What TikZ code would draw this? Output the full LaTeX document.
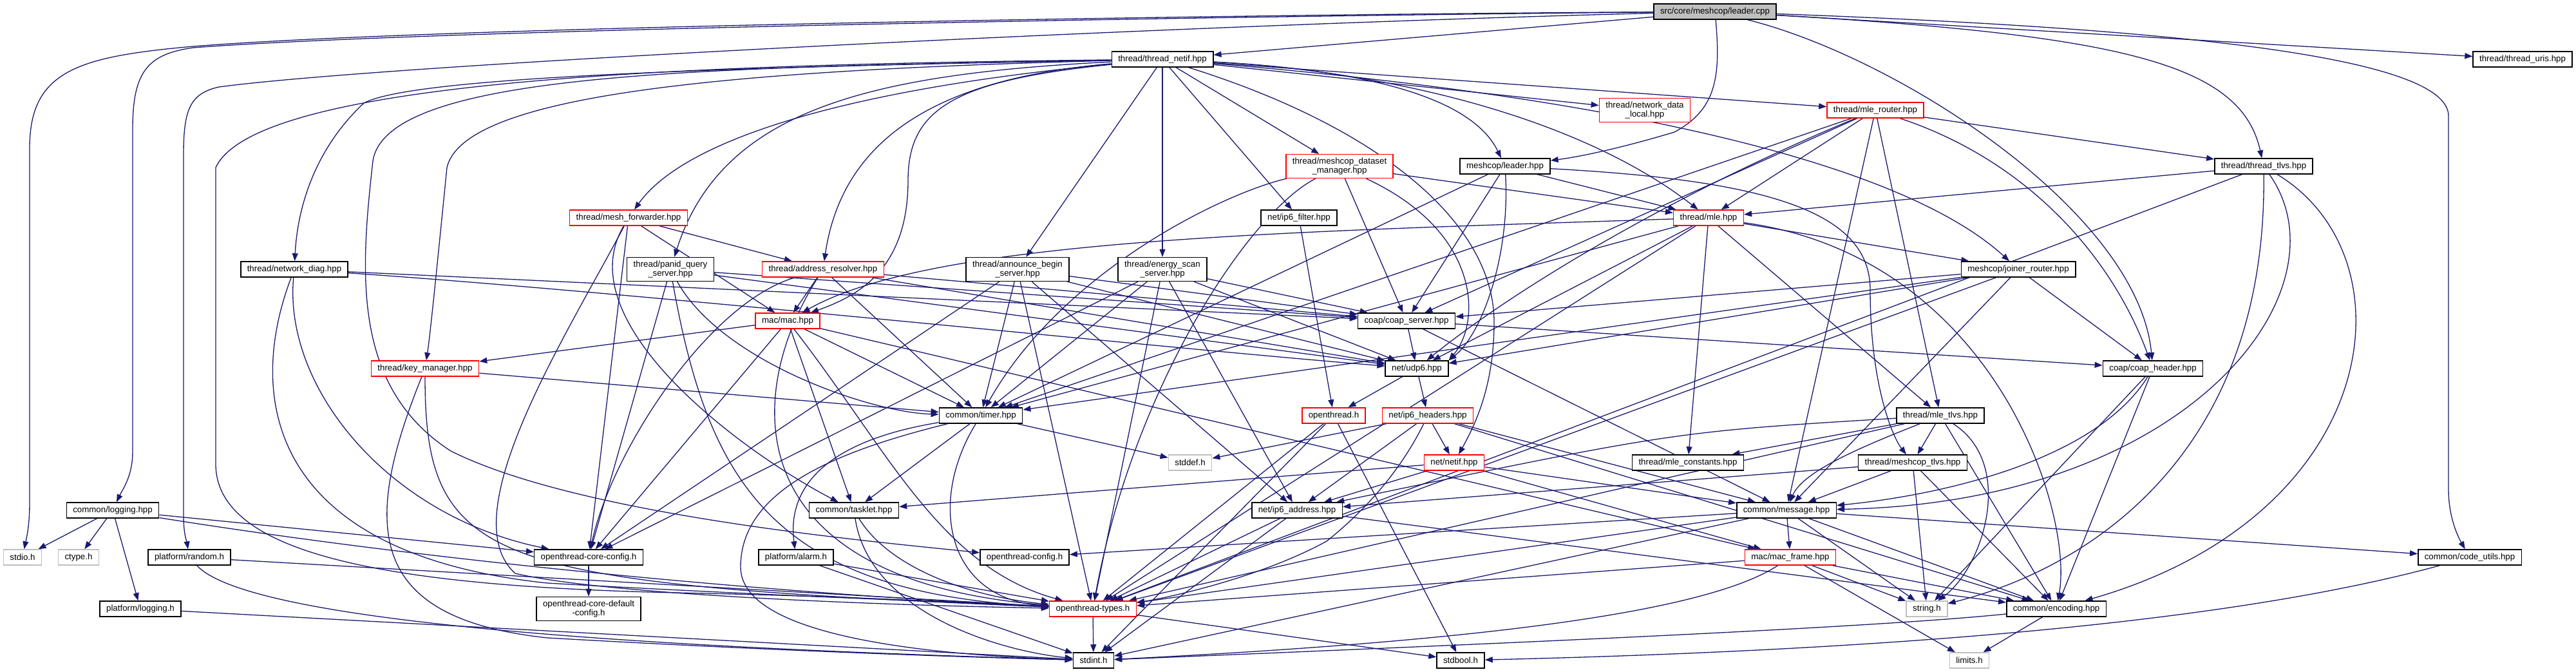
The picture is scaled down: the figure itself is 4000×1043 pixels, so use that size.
\documentclass[tikz,border=0pt]{standalone}
\usepackage{fontspec}
\setmainfont{Liberation Sans}
\usetikzlibrary{arrows.meta}
\pgfdeclarelayer{bg}
\pgfsetlayers{bg,main}
\definecolor{ecol}{HTML}{191970}
\definecolor{grey75}{HTML}{BFBFBF}
\definecolor{nred}{HTML}{FF0000}
\tikzset{
  nb/.style={draw=black, fill=white, line width=1.5pt, inner xsep=10pt, inner ysep=5.5pt,
    minimum height=24pt, align=center, font=\fontsize{13.3}{13.5}\selectfont},
  nr/.style={nb, draw=nred},
  ng/.style={nb, draw=grey75},
  edg/.style={draw=ecol, line width=1.3pt, -{Triangle[length=12pt,width=9pt]}},
}
\begin{document}
\begin{tikzpicture}[x=1pt,y=-1pt]
\useasboundingbox (0,0) rectangle (4000,1043);
% ---- nodes ----
\node[nb, fill=grey75] (root) at (2663,18) {src/core/meshcop/leader.cpp};
\node[nb] (tnetif) at (1805,92) {thread/thread\_netif.hpp};
\node[nb] (uris) at (3917,92) {thread/thread\_uris.hpp};
\node[nr] (ndl) at (2554,171) {thread/network\_data\\\_local.hpp};
\node[nr] (mler) at (2912,171) {thread/mle\_router.hpp};
\node[nr] (dsm) at (2080,258) {thread/meshcop\_dataset\\\_manager.hpp};
\node[nb] (mleader) at (2337,258) {meshcop/leader.hpp};
\node[nb] (ttlvs) at (3515,258) {thread/thread\_tlvs.hpp};
\node[nr] (mle) at (2653,338) {thread/mle.hpp};
\node[nb] (ipf) at (2017,338) {net/ip6\_filter.hpp};
\node[nr] (meshf) at (976,338) {thread/mesh\_forwarder.hpp};
\node[nb] (ndiag) at (457,418) {thread/network\_diag.hpp};
\node[nb] (panid) at (1041,418) {thread/panid\_query\\\_server.hpp};
\node[nr] (addr) at (1278,418) {thread/address\_resolver.hpp};
\node[nb] (ann) at (1580,418) {thread/announce\_begin\\\_server.hpp};
\node[nb] (energy) at (1805,418) {thread/energy\_scan\\\_server.hpp};
\node[nb] (joiner) at (3134,418) {meshcop/joiner\_router.hpp};
\node[nb] (coaps) at (2184,498) {coap/coap\_server.hpp};
\node[nr] (mac) at (1223,498) {mac/mac.hpp};
\node[nr] (keym) at (660,572) {thread/key\_manager.hpp};
\node[nb] (udp) at (2200,572) {net/udp6.hpp};
\node[nb] (coaph) at (3343,572) {coap/coap\_header.hpp};
\node[nb] (timer) at (1523,645) {common/timer.hpp};
\node[nr] (oth) at (2071,645) {openthread.h};
\node[nr] (iph) at (2217,645) {net/ip6\_headers.hpp};
\node[nb] (mletlvs) at (3013,645) {thread/mle\_tlvs.hpp};
\node[ng] (stddef) at (1848,718) {stddef.h};
\node[nr] (netif) at (2258,718) {net/netif.hpp};
\node[nb] (mlec) at (2621,718) {thread/mle\_constants.hpp};
\node[nb] (mctlvs) at (2970,718) {thread/meshcop\_tlvs.hpp};
\node[nb] (logging) at (175,792) {common/logging.hpp};
\node[nb] (tasklet) at (1326,792) {common/tasklet.hpp};
\node[nb] (ipa) at (2014,792) {net/ip6\_address.hpp};
\node[nb] (msg) at (2774,792) {common/message.hpp};
\node[ng] (stdio) at (35,865) {stdio.h};
\node[ng] (ctype) at (122,865) {ctype.h};
\node[nb] (random) at (294,865) {platform/random.h};
\node[nb] (occ) at (914,865) {openthread-core-config.h};
\node[nb] (alarm) at (1236,865) {platform/alarm.h};
\node[nb] (ocfg) at (1591,865) {openthread-config.h};
\node[nr] (macframe) at (2780,865) {mac/mac\_frame.hpp};
\node[nb] (codeu) at (3835,865) {common/code\_utils.hpp};
\node[nb] (plog) at (218,945) {platform/logging.h};
\node[nb] (occd) at (914,945) {openthread-core-default\\-config.h};
\node[nr] (ott) at (1697,945) {openthread-types.h};
\node[ng] (string) at (2992,945) {string.h};
\node[nb] (enc) at (3193,945) {common/encoding.hpp};
\node[nb] (stdint) at (1698,1025) {stdint.h};
\node[nb] (stdbool) at (2268,1025) {stdbool.h};
\node[ng] (limits) at (3058,1025) {limits.h};
% ---- edges ----
\begin{pgfonlayer}{bg}
\foreach \s/\t in {root/tnetif, root/uris,
  tnetif/ann, tnetif/energy, tnetif/ipf, tnetif/dsm, tnetif/ndl, tnetif/mler,
  mler/mle, mler/ttlvs, mler/coaps, mler/timer, mler/mletlvs, mler/msg,
  mle/joiner, mle/timer, mle/udp, mle/mlec, mle/mletlvs, mle/ott,
  dsm/mle, dsm/coaps, mleader/coaps, mleader/mle, mleader/timer,
  ttlvs/mle, ttlvs/ott, ipf/oth,
  meshf/addr, meshf/mac, meshf/occ,
  ndiag/coaps,
  panid/coaps, panid/udp, panid/occ,
  addr/mac, addr/coaps, addr/udp, addr/timer,
  ann/coaps, ann/udp, ann/timer, ann/occ, ann/ott, ann/ipa,
  energy/coaps, energy/udp, energy/timer, energy/occ, energy/ott, energy/ipa,
  joiner/coaps, joiner/udp, joiner/coaph, joiner/timer, joiner/msg, joiner/ott,
  coaps/udp, coaps/msg, coaps/coaph,
  mac/keym, mac/timer, mac/tasklet, mac/occ, mac/macframe,
  keym/timer, udp/oth, udp/iph, coaph/string, coaph/enc,
  timer/stddef, timer/tasklet,
  oth/ott, oth/stdint, oth/stdbool,
  iph/netif, iph/ipa, iph/msg, iph/stddef, iph/enc,
  mletlvs/mlec, mletlvs/mctlvs, mletlvs/enc, mletlvs/ott,
  netif/tasklet, netif/ipa, netif/macframe, netif/msg,
  mctlvs/msg, mctlvs/string, mctlvs/enc, mctlvs/ipa,
  logging/stdio, logging/ctype, logging/plog, logging/occ,
  ipa/ott, ipa/stdint, ipa/enc,
  msg/macframe, msg/string, msg/codeu, msg/ocfg, msg/ott, msg/enc, msg/stdint,
  random/ott, occ/occd, alarm/ott, alarm/stdint,
  macframe/limits, macframe/string, macframe/enc, macframe/ott,
  plog/stdint, ott/stdint, ott/stdbool, enc/limits}
  \draw[edg] (\s) -- (\t);
% root curves
\draw[edg] (root) .. controls (2000,22) and (700,40) .. (300,72) .. controls (120,88) and (46,110) .. (46,230) -- (46,780) .. controls (46,820) and (40,840) .. (stdio);
\draw[edg] (root) .. controls (2000,24) and (700,44) .. (300,74) .. controls (230,84) and (206,110) .. (206,200) -- (206,700) .. controls (206,740) and (190,760) .. (logging);
\draw[edg] (root) .. controls (1800,40) and (600,100) .. (340,135) .. controls (295,145) and (285,170) .. (285,240) -- (285,800) .. controls (285,830) and (290,840) .. (random);
\draw[edg] (root) .. controls (2672,120) and (2665,170) .. (2600,205) .. controls (2500,235) and (2440,245) .. (mleader);
\draw[edg] (root) .. controls (3300,55) and (3480,100) .. (ttlvs);
\draw[edg] (root) .. controls (2950,90) and (3320,330) .. (coaph);
\draw[edg] (root) .. controls (3400,45) and (3802,90) .. (3802,180) -- (3802,760) .. controls (3802,800) and (3815,830) .. (codeu);
% thread_netif curves
\draw[edg] (tnetif) .. controls (1300,140) and (1060,220) .. (meshf);
\draw[edg] (tnetif) .. controls (1100,105) and (640,120) .. (565,160) .. controls (490,230) and (462,320) .. (ndiag);
\draw[edg] (tnetif) .. controls (1350,115) and (1120,170) .. (panid);
\draw[edg] (tnetif) .. controls (1480,120) and (1310,200) .. (addr);
\draw[edg] (tnetif) .. controls (1480,125) and (1410,170) .. (1410,280) .. controls (1410,420) and (1330,460) .. (mac);
\draw[edg] (tnetif) .. controls (1100,110) and (720,150) .. (694,260) .. controls (680,400) and (668,520) .. (keym);
\draw[edg] (tnetif) .. controls (1100,100) and (400,120) .. (335,260) -- (335,720) .. controls (335,860) and (600,910) .. (1050,920) .. controls (1300,925) and (1500,935) .. (ott);
\draw[edg] (tnetif) .. controls (1100,105) and (600,110) .. (579,250) .. controls (560,420) and (545,600) .. (700,700) .. controls (900,800) and (1350,840) .. (ocfg);
\draw[edg] (tnetif) .. controls (2150,110) and (2290,160) .. (mleader);
\draw[edg] (tnetif) .. controls (2150,110) and (2450,180) .. (mle);
\draw[edg] (tnetif) .. controls (2500,150) and (2950,250) .. (joiner);
\draw[edg] (tnetif) .. controls (2150,200) and (2320,350) .. (2320,500) .. controls (2320,600) and (2290,660) .. (netif);
% other curves
\draw[edg] (mler) .. controls (2600,300) and (2350,450) .. (udp);
\draw[edg] (mler) .. controls (3150,250) and (3280,400) .. (coaph);
\draw[edg] (mle) .. controls (2000,360) and (1450,370) .. (mac);
\draw[edg] (mle) .. controls (3100,400) and (3220,800) .. (enc);
\draw[edg] (dsm) .. controls (1900,300) and (1650,420) .. (timer);
\draw[edg] (dsm) .. controls (2300,360) and (2300,500) .. (udp.north east);
\draw[edg] (dsm) .. controls (1940,330) and (1760,600) .. (ott);
\draw[edg] (mleader) .. controls (2750,280) and (2904,330) .. (2904,450) .. controls (2904,600) and (2940,680) .. (mctlvs);
\draw[edg] (mleader) .. controls (2345,400) and (2300,520) .. (udp.north east);
\draw[edg] (ttlvs) .. controls (3650,450) and (3400,780) .. (msg);
\draw[edg] (ttlvs) .. controls (3750,400) and (3700,800) .. (enc);
\draw[edg] (ttlvs) .. controls (3520,700) and (3250,880) .. (string);
\draw[edg] (meshf) .. controls (880,500) and (1150,700) .. (tasklet);
\draw[edg] (meshf) .. controls (880,520) and (700,800) .. (800,890) .. controls (950,925) and (1400,940) .. (ott);
\draw[edg] (ndiag) .. controls (1000,455) and (1800,540) .. (udp);
\draw[edg] (ndiag) .. controls (440,600) and (600,800) .. (occ);
\draw[edg] (ndiag) .. controls (380,620) and (420,860) .. (850,905) .. controls (1200,925) and (1500,935) .. (ott);
\draw[edg] (panid) .. controls (1120,560) and (1350,640) .. (timer);
\draw[edg] (panid) .. controls (1100,750) and (1200,920) .. (ott);
\draw[edg] (addr) .. controls (1100,470) and (950,700) .. (occ);
\draw[edg] (addr) .. controls (1150,620) and (1150,900) .. (ott);
\draw[edg] (mac) .. controls (1380,700) and (1460,880) .. (ott);
\draw[edg] (keym) .. controls (660,880) and (760,905) .. (ott);
\draw[edg] (keym) .. controls (560,820) and (570,960) .. (850,990) .. controls (1200,1010) and (1500,1020) .. (stdint);
\draw[edg] (coaph) .. controls (3250,720) and (3000,770) .. (msg);
\draw[edg] (timer) .. controls (1250,690) and (1225,780) .. (alarm);
\draw[edg] (timer) .. controls (1440,780) and (1470,930) .. (ott);
\draw[edg] (timer) .. controls (1300,700) and (1150,760) .. (1150,880) .. controls (1150,980) and (1400,1015) .. (stdint);
\draw[edg] (iph) .. controls (2170,740) and (2110,800) .. (2060,840) .. controls (1950,900) and (1800,930) .. (ott);
\draw[edg] (mletlvs) .. controls (2600,670) .. (ipa);
\draw[edg] (mletlvs) .. controls (3130,720) and (3080,880) .. (string);
\draw[edg] (mletlvs) .. controls (2900,690) and (2800,730) .. (msg);
\draw[edg] (tasklet) .. controls (1380,880) and (1500,925) .. (ott);
\draw[edg] (tasklet) .. controls (1350,950) and (1550,1010) .. (stdint);
\draw[edg] (random) .. controls (400,980) and (1200,1010) .. (stdint);
\draw[edg] (macframe) .. controls (2650,950) and (2300,995) .. (stdint);
\draw[edg] (codeu) .. controls (3450,970) and (2900,1010) .. (stdbool);
\draw[edg] (enc) .. controls (2900,975) and (2300,1000) .. (stdint);
\draw[edg] (logging) .. controls (600,860) and (1100,915) .. (ott);
\end{pgfonlayer}
\end{tikzpicture}
\end{document}
